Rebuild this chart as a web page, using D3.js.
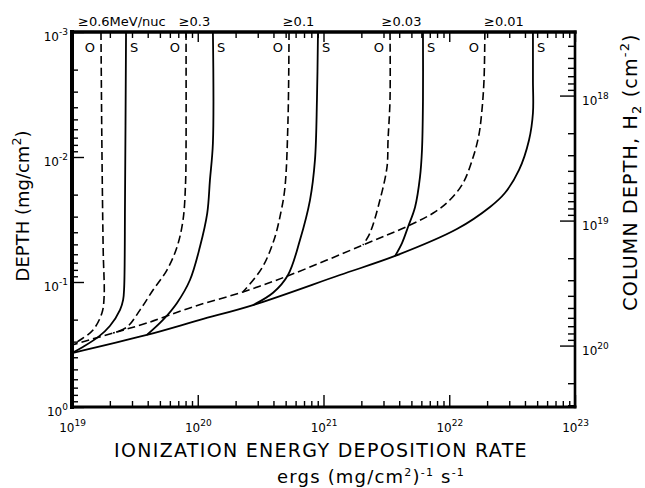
<!DOCTYPE html>
<html>
<head>
<meta charset="utf-8">
<script src="https://cdn.jsdelivr.net/npm/d3@7"></script>
<style>
    body { margin: 0; background: #fff; }
    svg { font-family: "DejaVu Sans", sans-serif; }
</style>
</head>
<body>
<div id="chart"></div>
<script>
// Axis ranges
const rateDomain = [1e19, 1e23];      // ergs (mg/cm2)^-1 s^-1
const depthDomain = [1e-3, 1];        // mg/cm2
const h2PerMg = 3.1e20;               // H2 molecules per mg

// Energy thresholds along the top
const thresholdLabels = ["≥0.6MeV/nuc", "≥0.3", "≥0.1", "≥0.03", "≥0.01"];

// Curves: [rate, depth]
// S = solid, O = dashed
const solid06 = [[2.69e19, 1e-3], [2.64e19, 2.21e-2], [2.6e19, 0.11], [2.55e19, 0.139], [2.41e19, 0.167],
    [2.0e19, 0.225], [1.62e19, 0.275], [1.22e19, 0.331], [1.0e19, 0.37]];
const dashed06 = [[1.7e19, 1e-3], [1.73e19, 8.79e-3], [1.77e19, 5.55e-2], [1.8e19, 0.132], [1.73e19, 0.177],
    [1.47e19, 0.242], [1.16e19, 0.291], [1.0e19, 0.319]];

const solid03 = [[1.32e20, 1e-3], [1.32e20, 7.73e-3], [1.25e20, 1.53e-2], [1.19e20, 2.81e-2], [1.04e20, 5.25e-2],
    [8.67e19, 9.64e-2], [6.84e19, 0.147], [5.29e19, 0.201], [3.94e19, 0.265]];
const dashed03 = [[8.07e19, 1e-3], [8.07e19, 8.79e-3], [8.0e19, 1.61e-2], [7.64e19, 3.19e-2], [6.84e19, 5.25e-2],
    [5.69e19, 8.02e-2], [4.41e19, 0.116], [3.48e19, 0.167], [2.74e19, 0.229], [2.12e19, 0.256]];

const solid01 = [[9.04e20, 1e-3], [8.87e20, 3.5e-3], [8.55e20, 1.06e-2], [7.81e20, 2.21e-2], [6.5e20, 4.61e-2],
    [5.22e20, 8.79e-2], [3.97e20, 0.122], [2.75e20, 0.153]];
const dashed01 = [[5.32e20, 1e-3], [5.22e20, 5.06e-3], [4.94e20, 1.74e-2], [4.59e20, 2.75e-2], [4.04e20, 4.61e-2],
    [3.24e20, 7.73e-2], [2.29e20, 0.12]];

const solid003 = [[6.18e21, 1e-3], [6.18e21, 3.5e-3], [6.07e21, 8.79e-3], [5.85e21, 1.45e-2], [5.35e21, 2.51e-2],
    [4.7e21, 3.63e-2], [4.21e21, 4.88e-2], [3.71e21, 6.19e-2]];
const dashed003 = [[3.38e21, 1e-3], [3.38e21, 3.5e-3], [3.26e21, 7.31e-3], [3.2e21, 1.2e-2], [2.81e21, 2.21e-2],
    [2.34e21, 4.06e-2], [2.06e21, 5.06e-2]];

const solid001 = [[4.63e22, 1e-3], [4.63e22, 2.42e-3], [4.63e22, 4.45e-3], [4.31e22, 7.31e-3], [3.59e22, 1.27e-2],
    [2.77e22, 1.94e-2], [2.11e22, 2.51e-2], [1.15e22, 3.77e-2], [3.71e21, 6.19e-2], [1.35e21, 8.79e-2],
    [2.75e20, 0.153], [1.04e20, 0.201], [3.94e19, 0.265], [1.0e19, 0.37]];
const dashed001 = [[1.92e22, 1e-3], [1.89e22, 2.42e-3], [1.82e22, 4.21e-3], [1.72e22, 6.67e-3], [1.55e22, 1e-2],
    [1.29e22, 1.61e-2], [1.01e22, 2.21e-2], [7.71e21, 2.75e-2], [4.88e21, 3.5e-2], [2.06e21, 5.06e-2],
    [5.42e20, 8.79e-2], [2.29e20, 0.12], [9.16e19, 0.158], [3.94e19, 0.213], [2.12e19, 0.256], [1.0e19, 0.319]];

const solidCurves = [solid06, solid03, solid01, solid003, solid001];
const dashedCurves = [dashed06, dashed03, dashed01, dashed003, dashed001];


class DepositionChart {

    constructor(selector) {

        this.margin = {top: 32, right: 70, bottom: 81, left: 72};
        this.width = 645 - this.margin.left - this.margin.right;
        this.height = 488 - this.margin.top - this.margin.bottom;

        this.root = d3.select(selector)
            .append("svg")
            .attr("width", 645)
            .attr("height", 488);

        this.svg = this.root.append("g")
            .attr("transform", `translate(${this.margin.left},${this.margin.top})`);

        this.x = d3.scaleLog().domain(rateDomain).range([0, this.width]);
        this.y = d3.scaleLog().domain(depthDomain).range([0, this.height]);
        this.yColumn = d3.scaleLog()
            .domain(depthDomain.map(d => d * h2PerMg))
            .range([0, this.height]);

        this.drawAxes();
        this.drawCurves();
        this.drawFrame();
        this.drawTitles();
    }

    drawAxes() {

        const isDecade = d => Math.abs(Math.log10(d) - Math.round(Math.log10(d))) < 1e-6;
        const minor = s => s.ticks().filter(d => !isDecade(d));
        const major = s => s.ticks().filter(isDecade);

        const powerOfTen = text => text.each(function (d) {
            const t = d3.select(this).text(null);
            t.append("tspan").text("10");
            t.append("tspan")
                .attr("dy", -6)
                .attr("font-size", 9)
                .text(Math.round(Math.log10(d)));
        });

        const style = g => {
            g.select(".domain").remove();
            g.attr("font-family", "DejaVu Sans").attr("font-size", 12);
            g.selectAll(".tick line").attr("stroke", "#000").attr("stroke-width", 1.4);
            g.selectAll(".tick text").attr("fill", "#000");
        };

        const bottom = `translate(0,${this.height})`;
        const right = `translate(${this.width},0)`;

        // Minor ticks, pointing inwards
        this.svg.append("g").attr("transform", bottom)
            .call(d3.axisBottom(this.x).tickValues(minor(this.x)).tickSize(-6).tickFormat(""))
            .call(style);
        this.svg.append("g")
            .call(d3.axisTop(this.x).tickValues(minor(this.x)).tickSize(-6).tickFormat(""))
            .call(style);
        this.svg.append("g")
            .call(d3.axisLeft(this.y).tickValues(minor(this.y)).tickSize(-6).tickFormat(""))
            .call(style);
        this.svg.append("g").attr("transform", right)
            .call(d3.axisRight(this.yColumn).tickValues(minor(this.yColumn)).tickSize(-7).tickFormat(""))
            .call(style);

        // Decade ticks with labels
        this.svg.append("g").attr("transform", bottom)
            .call(d3.axisBottom(this.x).tickValues(major(this.x)).tickSize(-12).tickPadding(16))
            .call(style)
            .selectAll(".tick text").call(powerOfTen);

        this.svg.append("g")
            .call(d3.axisTop(this.x).tickValues(major(this.x)).tickSize(-10).tickFormat(""))
            .call(style);

        this.svg.append("g")
            .call(d3.axisLeft(this.y).tickValues(major(this.y)).tickSize(-12).tickPadding(4))
            .call(style)
            .selectAll(".tick text").attr("dy", "0.7em").call(powerOfTen);

        this.svg.append("g").attr("transform", right)
            .call(d3.axisRight(this.yColumn).tickValues(major(this.yColumn)).tickSize(-15).tickPadding(7))
            .call(style)
            .selectAll(".tick text").attr("dy", "0.75em").call(powerOfTen);
    }

    drawCurves() {

        const line = d3.line()
            .x(d => this.x(d[0]))
            .y(d => this.y(d[1]))
            .curve(d3.curveCatmullRom.alpha(0.5));

        this.svg.selectAll(".solid")
            .data(solidCurves)
            .join("path")
            .attr("class", "solid")
            .attr("d", line)
            .attr("fill", "none")
            .attr("stroke", "#000")
            .attr("stroke-width", 1.8);

        this.svg.selectAll(".dashed")
            .data(dashedCurves)
            .join("path")
            .attr("class", "dashed")
            .attr("d", line)
            .attr("fill", "none")
            .attr("stroke", "#000")
            .attr("stroke-width", 1.6)
            .attr("stroke-dasharray", "8,4");

        // O / S marks next to the top of each curve
        this.svg.selectAll(".o-label")
            .data(dashedCurves)
            .join("text")
            .attr("x", d => this.x(d[0][0]) - 6)
            .attr("y", 20)
            .attr("text-anchor", "end")
            .attr("font-size", 13)
            .text("O");

        this.svg.selectAll(".s-label")
            .data(solidCurves)
            .join("text")
            .attr("x", d => this.x(d[0][0]) + 4)
            .attr("y", 20)
            .attr("font-size", 13)
            .text("S");

        // Threshold labels above the frame
        this.svg.selectAll(".threshold")
            .data(thresholdLabels)
            .join("text")
            .attr("x", (d, i) => i === 0 ? 6
                : (this.x(dashedCurves[i][0][0]) + this.x(solidCurves[i][0][0])) / 2 - 5)
            .attr("y", -6)
            .attr("text-anchor", (d, i) => i === 0 ? "start" : "middle")
            .attr("font-size", 13)
            .text(d => d);
    }

    drawFrame() {

        const edges = [
            {x1: 0, y1: 0, x2: 0, y2: this.height, w: 4},
            {x1: 0, y1: 0, x2: this.width, y2: 0, w: 3.5},
            {x1: 0, y1: this.height, x2: this.width, y2: this.height, w: 3},
            {x1: this.width, y1: 0, x2: this.width, y2: this.height, w: 2.6}
        ];

        this.svg.selectAll(".edge")
            .data(edges)
            .join("line")
            .attr("x1", d => d.x1).attr("y1", d => d.y1)
            .attr("x2", d => d.x2).attr("y2", d => d.y2)
            .attr("stroke", "#000")
            .attr("stroke-width", d => d.w)
            .attr("stroke-linecap", "square");
    }

    drawTitles() {

        // raised text, then back to the baseline
        const sup = (t, s, size, rise) => {
            t.append("tspan").attr("dy", -rise).attr("font-size", size).text(s);
            return t.append("tspan").attr("dy", rise);
        };

        // Bottom title
        this.root.append("text")
            .attr("x", 321).attr("y", 457)
            .attr("text-anchor", "middle")
            .attr("font-size", 19)
            .attr("letter-spacing", 1.3)
            .text("IONIZATION ENERGY DEPOSITION RATE");

        const units = this.root.append("text")
            .attr("x", 371).attr("y", 483)
            .attr("text-anchor", "middle")
            .attr("font-size", 18)
            .attr("letter-spacing", 1.2);
        units.append("tspan").text("ergs (mg/cm");
        sup(units, "2", 11, 7).text(")");
        sup(units, "-1", 11, 7).text(" s");
        sup(units, "-1", 11, 7);

        // Left title
        const left = this.root.append("text")
            .attr("transform", "translate(29,206) rotate(-90)")
            .attr("text-anchor", "middle")
            .attr("font-size", 18);
        left.append("tspan").text("DEPTH (mg/cm");
        sup(left, "2", 12.6, 8).text(")");

        // Right title
        const right = this.root.append("text")
            .attr("transform", "translate(637,172) rotate(-90)")
            .attr("text-anchor", "middle")
            .attr("font-size", 19)
            .attr("letter-spacing", 1.2);
        right.append("tspan").text("COLUMN DEPTH, H");
        right.append("tspan").attr("dy", 4).attr("font-size", 13).text("2");
        right.append("tspan").attr("dy", -4).text(" (cm");
        sup(right, "-2", 13, 8.5).text(")");
    }
}

new DepositionChart("#chart");
</script>
</body>
</html>
